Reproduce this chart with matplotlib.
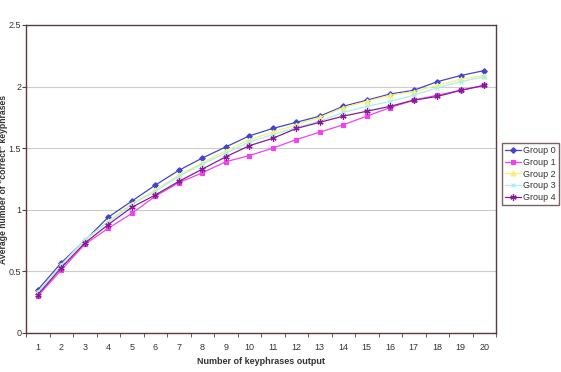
import numpy as np
import matplotlib.pyplot as plt

plt.rcParams['font.family'] = ['Liberation Sans', 'DejaVu Sans']

# number of keyphrases output (categories)
n_out = list(range(1, 21))

group0 = [0.35, 0.57, 0.75, 0.94, 1.07, 1.20, 1.32, 1.42, 1.51, 1.60,
          1.66, 1.71, 1.76, 1.84, 1.89, 1.94, 1.97, 2.04, 2.09, 2.13]
group1 = [0.30, 0.51, 0.72, 0.85, 0.97, 1.11, 1.22, 1.30, 1.39, 1.44,
          1.50, 1.57, 1.63, 1.69, 1.76, 1.83, 1.89, 1.93, 1.97, 2.01]
group2 = [0.33, 0.55, 0.75, 0.91, 1.05, 1.16, 1.28, 1.38, 1.48, 1.57,
          1.63, 1.69, 1.75, 1.83, 1.88, 1.93, 1.96, 2.01, 2.06, 2.09]
group3 = [0.33, 0.55, 0.76, 0.90, 1.04, 1.15, 1.27, 1.37, 1.46, 1.55,
          1.61, 1.67, 1.72, 1.79, 1.84, 1.88, 1.93, 1.99, 2.04, 2.08]
group4 = [0.31, 0.53, 0.73, 0.88, 1.02, 1.12, 1.23, 1.33, 1.43, 1.52,
          1.58, 1.66, 1.71, 1.76, 1.80, 1.84, 1.89, 1.92, 1.97, 2.01]

labels = ['Group 0', 'Group 1', 'Group 2', 'Group 3', 'Group 4']
series = [group0, group1, group2, group3, group4]
colors = ['#4444cc', '#ee44ee', '#f2f27a', '#a8f0ec', '#8a1a99']
markers = ['D', 's', '^', 'x', (6, 2, 0)]
msizes = [2.8, 3.2, 3.5, 3.5, 4.5]

axis_col = '#5a3a3a'

fig = plt.figure(figsize=(5.61, 3.72), dpi=100)
ax = fig.add_axes([26/561, 1-333/372, 470/561, 308/372])

x = np.arange(len(n_out))
for vals, lab, c, m, ms in zip(series, labels, colors, markers, msizes):
    ax.plot(x, vals, color=c, marker=m, markersize=ms, linewidth=0.9,
            label=lab, markeredgewidth=0.9)

ax.set_xlim(-0.5, len(n_out) - 0.5)
ax.set_ylim(0, 2.5)
ax.set_yticks([0, 0.5, 1, 1.5, 2, 2.5])
ax.set_yticklabels(['0', '0.5', '1', '1.5', '2', '2.5'])
ax.set_xticks(x)
ax.set_xticklabels([str(v) for v in n_out])
ax.set_xticks(np.arange(len(n_out) + 1) - 0.5, minor=True)
ax.tick_params(axis='x', which='major', length=0, pad=7)
ax.tick_params(axis='x', which='minor', length=3, color=axis_col, direction='out')
ax.tick_params(axis='y', length=3, color=axis_col, direction='out', pad=0.5)
ax.tick_params(labelsize=6.5, labelcolor='#333333')

ax.yaxis.grid(True, color='#cccccc', linewidth=0.8)
ax.set_axisbelow(True)
for s in ax.spines.values():
    s.set_color(axis_col)
    s.set_linewidth(1)

ax.set_xlabel('Number of keyphrases output', fontsize=6.5, fontweight='bold',
              color='#333333', labelpad=4)
fig.text(4/561, 0.5 + (186 - 179)/372, 'Average number of "correct" keyphrases',
         rotation=90, ha='center', va='center', fontsize=6.2,
         fontweight='bold', color='#333333')

leg = fig.legend(loc='upper left', bbox_to_anchor=(502/561, 1-143/372),
                 fontsize=6.5, frameon=True, fancybox=False, borderpad=0.35,
                 labelspacing=0.3, handlelength=1.8, handletextpad=0.2,
                 borderaxespad=0)
leg.get_frame().set_edgecolor(axis_col)
leg.get_frame().set_linewidth(1)
for t in leg.get_texts():
    t.set_color('#333333')

fig.savefig('out.png', dpi=100)
